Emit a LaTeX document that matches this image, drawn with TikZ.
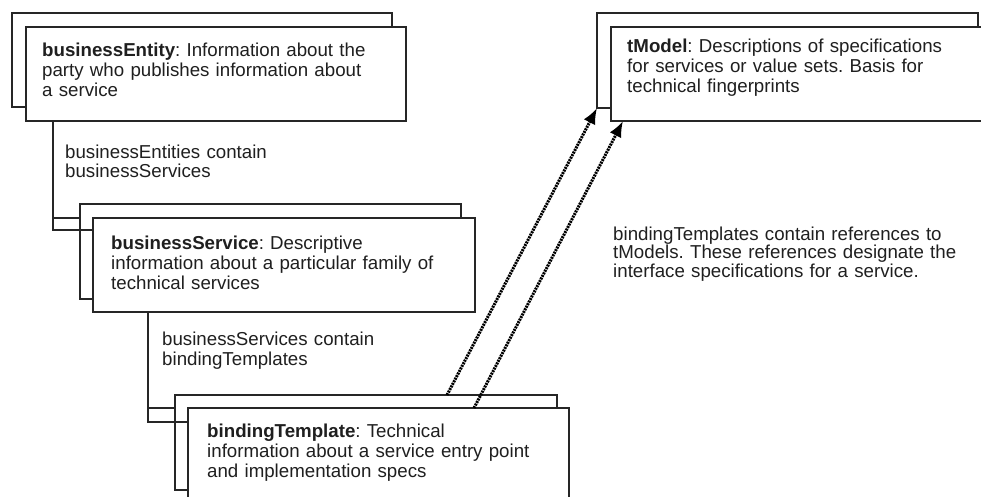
\documentclass[tikz,border=0pt]{standalone}
\usepackage{fontspec}
\setmainfont{Liberation Sans}
\usetikzlibrary{arrows.meta}
\begin{document}
\frenchspacing
\begin{tikzpicture}[x=1pt,y=-1pt,
  box/.style={draw=black!85, line width=1.4pt, fill=white, rectangle, inner sep=0pt, outer sep=0pt, anchor=north west},
  txt/.style={anchor=base west, inner sep=0pt, text width=420pt, align=left, text=black!88,
    font=\frenchspacing\fontsize{18.7}{20}\selectfont},
  conn/.style={draw=black!85, line width=1.4pt},
  refarrow/.style={draw=black, line width=3pt, dash pattern=on 2pt off 0.9pt,
    -{Latex[length=16pt,width=13pt]}}]
\useasboundingbox (0,0) rectangle (981,497);
\clip (0,0) rectangle (981,497);
% boxes
\node[box, minimum width=380pt, minimum height=94pt] (e1back) at (12,13) {};
\node[box, minimum width=380pt, minimum height=94pt] (e1) at (26,27) {};
\node[box, minimum width=381pt, minimum height=95pt] (s1back) at (80,204) {};
\node[box, minimum width=382pt, minimum height=94pt] (s1) at (93,218) {};
\node[box, minimum width=382pt, minimum height=95pt] (b1back) at (175,395) {};
\node[box, minimum width=381pt, minimum height=110pt] (b1) at (188,408) {};
\node[box, minimum width=381pt, minimum height=95pt] (tback) at (597,13) {};
\node[box, minimum width=390pt, minimum height=94pt] (t) at (611,27) {};
% connector helper coordinates
\coordinate (c1) at (53,230);
\coordinate (c2) at (148,422);
\coordinate (a1) at (447,0);
\coordinate (a2) at (474,0);
\coordinate (a2e) at (623,0);
% containment connectors
\draw[conn] (e1.south -| c1) |- (s1.west |- c1);
\draw[conn] (c1 |- s1.north) -- (s1back.west |- s1.north);
\draw[conn] (s1.south -| c2) |- (b1.west |- c2);
\draw[conn] (c2 |- b1.north) -- (b1back.west |- b1.north);
% texts
\node[txt] (te1) at (42,57) {\textbf{businessEntity}: Information about the\\party who publishes information about\\a service};
\node[txt] (l1) at (65,158) {businessEntities contain\\businessServices};
\node[txt] (ts1) at (111,249) {\textbf{businessService}: Descriptive\\information about a particular family of\\technical services};
\node[txt] (l2) at (162,345) {businessServices contain\\bindingTemplates};
\node[txt] (tb1) at (207,437) {\textbf{bindingTemplate}: Technical\\information about a service entry point\\and implementation specs};
\node[txt] (tt) at (627,53) {\textbf{tModel}: Descriptions of specifications\\for services or value sets. Basis for\\technical fingerprints};
\node[txt, font=\frenchspacing\fontsize{18.7}{18.5}\selectfont] (l3) at (613,240) {bindingTemplates contain references to\\tModels. These references designate the\\interface specifications for a service.};
% reference arrows
\draw[refarrow] (a1 |- b1back.north) -- (tback.south west);
\draw[refarrow] (a2 |- b1.north) -- (a2e |- t.south);
\end{tikzpicture}
\end{document}
